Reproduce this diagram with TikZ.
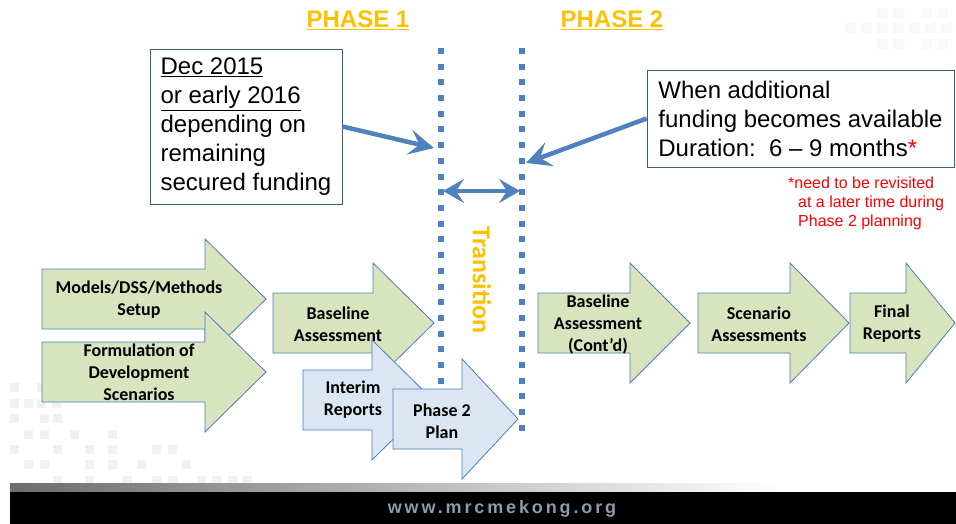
\documentclass[tikz,border=0pt]{standalone}
\usepackage{fontspec}
\setmainfont{Liberation Sans}
\newfontfamily\calibfont{Carlito}
\newfontfamily\footfont[LetterSpace=16]{Liberation Sans}
\usetikzlibrary{arrows.meta}
\definecolor{gfill}{HTML}{D7E4BD}
\definecolor{bfill}{HTML}{DCE6F2}
\definecolor{aedge}{HTML}{4A7EBB}
\definecolor{dotblue}{HTML}{4F81BD}
\definecolor{boxedge}{HTML}{385D8A}
\definecolor{phaseorange}{HTML}{FFC000}
\definecolor{footgray}{HTML}{8C9BB0}
\definecolor{sqgray}{HTML}{F1F1F1}
\definecolor{sqblue}{HTML}{F8F9FC}
% style, x left, x head base, x tip, y centre
\newcommand{\blockarrow}[5]{%
  \path[#1] (#2,#5-30) -- (#3,#5-30) -- (#3,#5-60) -- (#4,#5) -- (#3,#5+60) -- (#3,#5+30) -- (#2,#5+30) -- cycle;}
\begin{document}
\begin{tikzpicture}[x=1pt,y=-1pt,
  greenarrow/.style={fill=gfill,draw=aedge,line width=0.8pt,line join=miter},
  bluearrow/.style={fill=bfill,draw=aedge,line width=0.8pt,line join=miter},
  arrowtext/.style={font={\calibfont\bfseries\fontsize{18}{22}\selectfont},align=center,inner sep=0pt},
  infobox/.style={draw=boxedge,line width=0.8pt,fill=white,align=left,inner sep=0pt,
    font={\fontsize{24}{29}\selectfont}},
  phasetitle/.style={font={\bfseries\fontsize{24}{29}\selectfont},text=phaseorange,anchor=base,inner sep=0pt},
  dotline/.style={draw=dotblue,line width=6pt,dash pattern=on 6pt off 9.7pt},
  callout/.style={draw=dotblue,line width=4.5pt,-{Stealth[length=25pt,width=25pt,inset=10pt]}},
  bgsq/.style={fill=sqgray},
  bgsqb/.style={fill=sqblue}]
\useasboundingbox (0,0) rectangle (956,524);
\fill[white] (0,0) rectangle (956,524);

% faint template squares, bottom left
\foreach \x/\y in {10/383,37/383,10/399,24/399,37/399,52/399,10/414,40/414,53/414,
  24/430,40/430,70/430,108/430,10/445,53/445,85/445,108/445,152/445,168/445,
  24/460,40/460,85/460,108/460,137/460,182/460,
  53/476,85/476,123/476,152/476,168/476,197/476,212/476,228/476,243/476}
  \fill[bgsq] (\x,\y) rectangle ++(9,9);
% faint template squares, top right
\foreach \x/\y in {877/8,893/8,921/8,937/8,845/23,861/23,877/23,893/23,909/23,925/23,941/23,
  877/39,893/39,921/39,937/39}
  \fill[bgsqb] (\x,\y) rectangle ++(11,10);

% footer
\shade[left color=gray!85!black,right color=white] (10,483) rectangle (780,492);
\fill[black] (10,492) rectangle (956,524);
\node[font={\footfont\bfseries\fontsize{18}{20}\selectfont},text=footgray,inner sep=0pt] (web) at (502,509) {www.mrcmekong.org};

% phase titles
\node[phasetitle] (ph1) at (358,28) {\underline{PHASE 1}};
\node[phasetitle] (ph2) at (612,28) {\underline{PHASE 2}};

% dotted phase boundaries
\coordinate (l1top) at (441,48);
\coordinate (l1bot) at (441,440);
\coordinate (l2top) at (522,48);
\coordinate (l2bot) at (522,440);
\draw[dotline] (l1top) -- (l1bot);
\draw[dotline] (l2top) -- (l2bot);

% Transition label
\node[font={\calibfont\bfseries\fontsize{26}{30}\selectfont},text=phaseorange,rotate=-90,inner sep=0pt] (trans) at (482,280) {Transition};

% block arrows, phase 1
\blockarrow{greenarrow}{42}{205}{266}{299}
\node[arrowtext] (models) at (139,300) {Models/DSS/Methods\\Setup};
\blockarrow{greenarrow}{42}{205}{266}{372}
\node[arrowtext] (formul) at (139,372) {Formulation of\\Development\\Scenarios};
\blockarrow{greenarrow}{273}{373}{434}{323}
\node[arrowtext] (base1) at (338,324) {Baseline\\Assessment};
\blockarrow{bluearrow}{303}{372}{433}{400}
\node[arrowtext] (interim) at (353,400) {Interim\\Reports};
\blockarrow{bluearrow}{393}{462}{518}{419}
\node[arrowtext] (plan) at (442,421) {Phase 2\\Plan};

% block arrows, phase 2
\blockarrow{greenarrow}{538}{630}{690}{323}
\node[arrowtext] (base2) at (598,325) {Baseline\\Assessment\\(Cont’d)};
\blockarrow{greenarrow}{698}{790}{849}{323}
\node[arrowtext] (scen) at (759,324) {Scenario\\Assessments};
\blockarrow{greenarrow}{850}{906}{955}{323}
\node[arrowtext] (final) at (892,324) {Final\\Reports};

% info boxes
\node[infobox,minimum width=192pt,minimum height=155pt] (leftbox) at (246,126.5)
  {\underline{Dec 2015}\\\underline{or early 2016}\\depending on\\remaining\\secured funding};
\node[infobox,minimum width=307pt,minimum height=97pt] (rightbox) at (800.5,118.5)
  {When additional\\funding becomes available\\Duration:\ \ 6 – 9 months{\color{red}*}};

% footnote
\node[anchor=north west,align=left,inner sep=0pt,text=red,font={\fontsize{16}{19}\selectfont}] (note) at (788,177)
  {*need to be revisited\\\hspace*{10pt}at a later time during\\\hspace*{10pt}Phase 2 planning};

% callout arrows
\coordinate (tipL) at (434,148);
\coordinate (tipR) at (526,163);
\draw[callout] (leftbox.east) -- (tipL);
\draw[callout] (rightbox.west) -- (tipR);
\coordinate (dl) at (443,191);
\coordinate (dr) at (520,191);
\draw[draw=dotblue,line width=4.5pt,{Stealth[length=21pt,width=24pt,inset=8pt]}-{Stealth[length=21pt,width=24pt,inset=8pt]}] (dl) -- (dr);
\end{tikzpicture}
\end{document}
